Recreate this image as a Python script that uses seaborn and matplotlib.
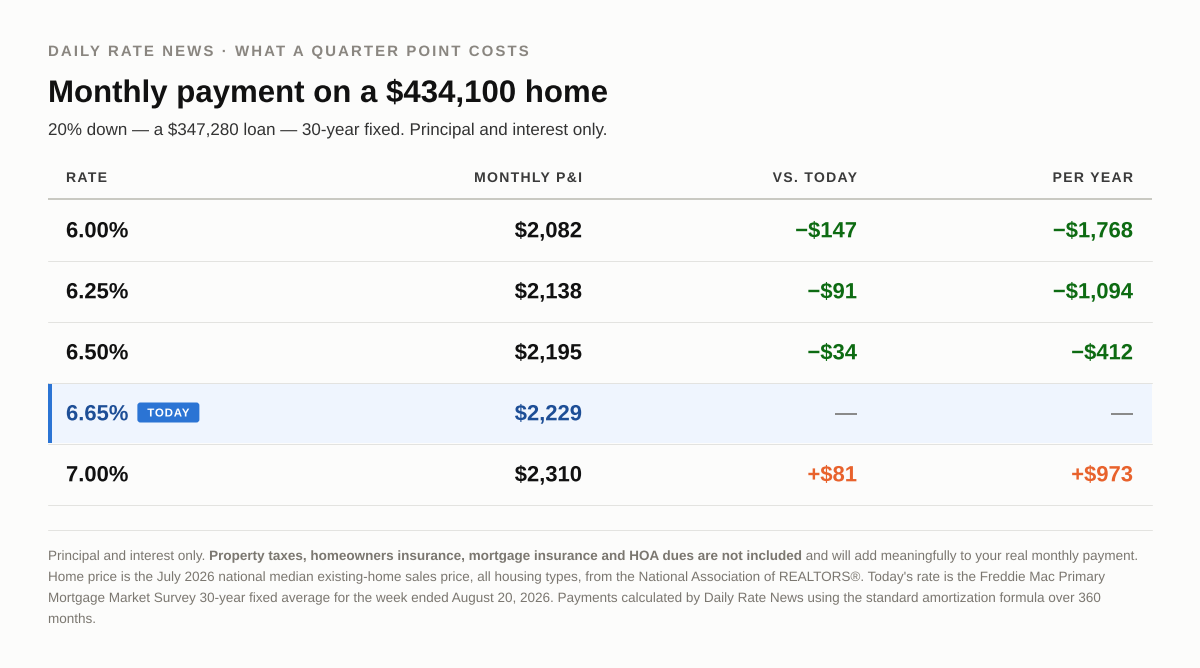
import numpy as np
import matplotlib
matplotlib.use("Agg")
import matplotlib.pyplot as plt
import matplotlib.patheffects as pe
import seaborn as sns
from matplotlib.font_manager import FontProperties
from matplotlib.patches import Rectangle, FancyBboxPatch
from matplotlib.path import Path
from matplotlib.textpath import text_to_path

# ---- data ----
rates = [6.00, 6.25, 6.50, 6.65, 7.00]
monthly = [2082, 2138, 2195, 2229, 2310]
vs_today = [-147, -91, -34, None, 81]
per_year = [-1768, -1094, -412, None, 973]
today_rate = 6.65
columns = ["RATE", "MONTHLY P&I", "VS. TODAY", "PER YEAR"]
kicker = "DAILY RATE NEWS · WHAT A QUARTER POINT COSTS"
title = "Monthly payment on a $434,100 home"
subtitle = "20% down — a $347,280 loan — 30-year fixed. Principal and interest only."

# ---- style ----
BG = "#fcfcfb"
FAM = ["Liberation Sans", "DejaVu Sans"]
sns.set_theme(style="white")
plt.rcParams["font.family"] = FAM

W, H = 1200, 668
fig = plt.figure(figsize=(12, 6.68), dpi=100, facecolor=BG)
ax = fig.add_axes([0, 0, 1, 1])
ax.set_xlim(0, W)
ax.set_ylim(H, 0)
ax.axis("off")
ax.set_facecolor(BG)


def tw(s, size, weight="normal"):
    """Advance width of s (in the units of size), spaces and bearings included."""
    if s == "":
        return 0.0
    p = FontProperties(family=FAM, weight=weight, size=size)
    a = text_to_path.get_text_width_height_descent("H" + s + "H", p, ismath=False)[0]
    b = text_to_path.get_text_width_height_descent("HH", p, ismath=False)[0]
    return a - b


class LetterSpacing(pe.AbstractPathEffect):
    """Draws a text's outline with extra tracking between glyphs."""

    def __init__(self, s, size_px, weight, spacing_px):
        super().__init__()
        self.bounds = np.array([tw(s[:k], 100, weight) for k in range(len(s) + 1)])
        self.shift = spacing_px * 100.0 / size_px
        self.n = len(s)

    def draw_path(self, renderer, gc, tpath, affine, rgbFace=None):
        verts = tpath.vertices.copy()
        codes = tpath.codes
        if codes is not None and self.shift:
            starts = list(np.where(codes == Path.MOVETO)[0]) + [len(codes)]
            for a, b in zip(starts[:-1], starts[1:]):
                m = codes[a:b] != Path.CLOSEPOLY
                xc = verts[a:b][m, 0].mean()
                k = int(np.clip(np.searchsorted(self.bounds, xc, side="right") - 1,
                                0, self.n - 1))
                verts[a:b, 0] += k * self.shift
        renderer.draw_path(gc, Path(verts, codes), affine, rgbFace)


def txt(x, base, s, size_px, color, weight="normal", ha="left", spacing=0.0, z=3):
    """Real text object, drawn as an exact outline at the given baseline."""
    w = tw(s, size_px, weight) + spacing * (len(s) - 1)
    if ha == "right":
        x -= w
    elif ha == "center":
        x -= w / 2
    effects = [LetterSpacing(s, size_px, weight, spacing)] if spacing else [pe.Normal()]
    ax.text(x, base, s, fontsize=size_px * 0.72, fontweight=weight, color=color,
            ha="left", va="baseline", path_effects=effects, zorder=z)
    return w


def money(v, signed=False):
    if v is None:
        return "—"
    s = f"${abs(v):,}"
    if signed:
        s = ("−" if v < 0 else "+") + s
    return s


# ---- header texts ----
txt(48, 56, kicker, 15, "#8a8680", weight="bold", spacing=2.07)
txt(48, 102, title, 31.2, "#111111", weight="bold")
txt(48, 135, subtitle, 16.98, "#333333")

# ---- table ----
L, R = 48, 1152
col_x = [66, 582, 857, 1133]
col_ha = ["left", "right", "right", "right"]
for c, x, ha in zip(columns, col_x, col_ha):
    txt(x, 182, c, 14, "#3a3a3a", weight="bold", ha=ha, spacing=1.3)
ax.plot([L, R], [199, 199], color="#c9c9c2", lw=2 * 0.72, solid_capstyle="butt")

ROW_H = 61
GREEN, ORANGE, BLUE_T = "#0d6b12", "#e8622c", "#1d4e96"
for i, (r, m, d, y) in enumerate(zip(rates, monthly, vs_today, per_year)):
    top = 200 + ROW_H * i
    cy = top + 29.5
    base = cy + 7.8
    is_today = abs(r - today_rate) < 1e-9
    if is_today:
        ax.add_patch(Rectangle((L, top), R - L, ROW_H - 1, facecolor="#eff5fe",
                               edgecolor="none", zorder=0))
        ax.add_patch(Rectangle((L, top), 4, ROW_H - 1, facecolor="#2b74d4",
                               edgecolor="none", zorder=1))
    main_c = BLUE_T if is_today else "#111111"
    rate_s = f"{r:.2f}%"
    rw = txt(col_x[0], base, rate_s, 22, main_c, weight="bold")
    if is_today:
        bx = col_x[0] + rw + 9
        ax.add_patch(FancyBboxPatch((bx, cy - 10), 62, 20,
                                    boxstyle="round,pad=0,rounding_size=3",
                                    facecolor="#2b74d4", edgecolor="none", zorder=2))
        txt(bx + 31, cy + 4, "TODAY", 11.5, "white", weight="bold", ha="center",
            spacing=0.8, z=4)
    txt(col_x[1], base, money(m), 22, main_c, weight="bold", ha="right")
    for val, x in ((d, col_x[2]), (y, col_x[3])):
        if val is None:
            txt(x, base, "—", 22, "#8a8a8a", weight="bold", ha="right")
        else:
            col = GREEN if val < 0 else ORANGE
            txt(x, base, money(val, True), 22, col, weight="bold", ha="right")
    ax.plot([L, R], [top + ROW_H - 0.5] * 2, color="#e3e3e0", lw=0.72)

# ---- footer ----
ax.plot([L, R], [529.5, 529.5], color="#e3e3e0", lw=0.72)
FN = "#7b7770"
fs = 13.5
line1 = [("Principal and interest only. ", "normal"),
         ("Property taxes, homeowners insurance, mortgage insurance and HOA dues are not included", "bold"),
         (" and will add meaningfully to your real monthly payment.", "normal")]
x = 48
for seg, wgt in line1:
    x += txt(x, 560, seg, fs, FN, weight=wgt)
other = ["Home price is the July 2026 national median existing-home sales price, all housing types, from the National Association of REALTORS®. Today's rate is the Freddie Mac Primary",
         "Mortgage Market Survey 30-year fixed average for the week ended August 20, 2026. Payments calculated by Daily Rate News using the standard amortization formula over 360",
         "months."]
for k, s in enumerate(other):
    txt(48, 581 + 21 * k, s, fs, FN)

fig.savefig("out.png", dpi=100, facecolor=BG)
